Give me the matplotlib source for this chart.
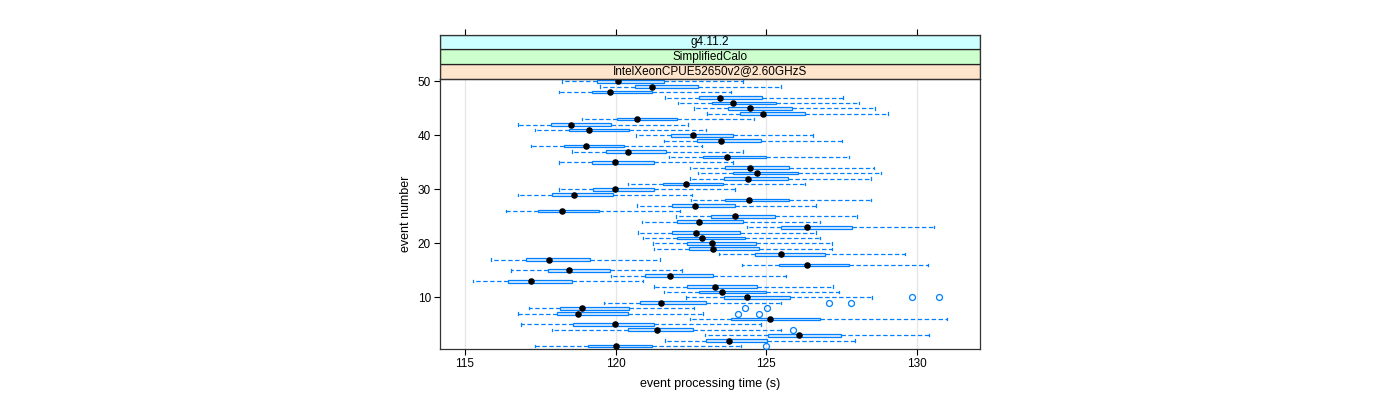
import matplotlib
matplotlib.use("Agg")
import matplotlib.pyplot as plt
from matplotlib.patches import Rectangle

plt.rcParams['font.family'] = ['Liberation Sans', 'DejaVu Sans']
plt.rcParams['lines.scale_dashes'] = False

# event number 1..50
events = list(range(1, 51))
whislo = [117.34, 121.64, 122.95, 117.90, 116.86, 122.48, 116.76, 117.13, 119.63, 122.35,
          121.60, 121.26, 115.29, 119.84, 116.53, 124.20, 115.88, 123.42, 121.26, 121.23,
          120.90, 120.73, 124.34, 120.87, 122.00, 116.38, 120.72, 122.50, 116.78, 118.13,
          120.42, 122.48, 122.74, 122.48, 118.11, 121.78, 118.56, 117.19, 121.59, 120.68,
          117.34, 116.76, 118.88, 123.03, 122.60, 122.08, 121.63, 118.13, 119.50, 118.23]
q1 = [119.09, 123.00, 125.06, 120.40, 118.60, 123.84, 118.07, 118.16, 120.80, 123.61,
      122.77, 122.37, 116.44, 120.99, 117.75, 125.42, 117.04, 124.63, 122.44, 122.37,
      122.05, 121.88, 125.49, 122.02, 123.17, 117.44, 121.88, 123.64, 117.90, 119.26,
      121.58, 123.60, 123.89, 123.63, 119.22, 122.89, 119.69, 118.30, 122.71, 121.85,
      118.44, 117.85, 120.05, 124.13, 123.72, 123.20, 122.77, 119.22, 120.63, 119.40]
med = [120.03, 123.77, 126.08, 121.38, 119.99, 125.11, 118.77, 118.88, 121.52, 124.37,
       123.53, 123.28, 117.19, 121.80, 118.45, 126.34, 117.79, 125.49, 123.24, 123.18,
       122.85, 122.68, 126.34, 122.77, 123.96, 118.23, 122.63, 124.43, 118.62, 119.99,
       122.32, 124.39, 124.70, 124.44, 119.99, 123.71, 120.41, 119.03, 123.50, 122.55,
       119.13, 118.53, 120.71, 124.89, 124.46, 123.90, 123.45, 119.83, 121.22, 120.07]
q3 = [121.22, 125.02, 127.48, 122.55, 121.26, 126.78, 120.40, 120.43, 123.00, 125.79,
      124.99, 124.69, 118.56, 123.22, 119.82, 127.75, 119.16, 126.95, 124.74, 124.67,
      124.30, 124.14, 127.84, 124.21, 125.29, 119.46, 123.95, 125.74, 119.92, 121.26,
      123.57, 125.72, 126.05, 125.76, 121.27, 125.00, 121.68, 120.29, 124.82, 123.88,
      120.45, 119.86, 122.04, 126.29, 125.86, 125.33, 124.84, 121.20, 122.74, 121.62]
whishi = [124.17, 127.93, 130.40, 125.49, 124.83, 130.98, 122.91, 122.60, 125.49, 128.50,
          127.41, 127.21, 120.92, 125.66, 122.19, 130.35, 121.46, 129.58, 127.18, 127.18,
          126.76, 126.63, 130.54, 126.76, 127.99, 122.15, 126.64, 128.47, 122.52, 123.97,
          126.29, 128.46, 128.80, 128.57, 123.90, 127.75, 124.24, 122.85, 127.49, 126.56,
          123.00, 122.40, 124.60, 129.04, 128.61, 128.06, 127.55, 123.84, 125.47, 124.21]
outliers = {1: [124.98], 4: [125.89], 7: [124.06, 124.74], 8: [124.28, 125.03],
            9: [127.07, 127.79], 10: [129.81, 130.71]}

strip_labels = ["IntelXeonCPUE52650v2@2.60GHzS", "SimplifiedCalo", "g4.11.2"]
strip_colors = ["#ffe5cc", "#ccffcc", "#ccffff"]
xticks = [115, 120, 125, 130]
yticks = [10, 20, 30, 40, 50]

W, H = 1400, 400
fig = plt.figure(figsize=(W / 100, H / 100), dpi=100)

px_l, px_r, px_t, px_b = 440, 980, 78.6, 348.7
strip_top = 34.8
ax = fig.add_axes([px_l / W, 1 - px_b / H, (px_r - px_l) / W, (px_b - px_t) / H])

blue = "#0080ff"
stats = []
for i, e in enumerate(events):
    stats.append(dict(med=med[i], q1=q1[i], q3=q3[i], whislo=whislo[i], whishi=whishi[i],
                      fliers=outliers.get(e, []), label=str(e)))

ax.bxp(stats, positions=events, widths=0.5, orientation='horizontal',
       patch_artist=True, showfliers=True, capwidths=0.45,
       boxprops=dict(facecolor="#d9ecff", edgecolor=blue, linewidth=0.9),
       whiskerprops=dict(color=blue, linewidth=0.9, linestyle=(0, (3.2, 1.8))),
       capprops=dict(color=blue, linewidth=0.9),
       medianprops=dict(linestyle='none'),
       flierprops=dict(marker='o', markerfacecolor='none', markeredgecolor=blue,
                       markersize=4.3, markeredgewidth=0.9),
       manage_ticks=False, zorder=3)
ax.plot(med, events, 'o', color='black', markersize=3.7, zorder=5)

ax.set_xlim(114.18, 132.08)
ax.set_ylim(0.5, 50.5)
for xv in xticks:
    ax.axvline(xv, color="#e6e6e6", linewidth=0.9, zorder=0)
ax.set_xticks(xticks)
ax.set_xticklabels([str(v) for v in xticks])
ax.set_yticks(yticks)
ax.set_yticklabels([str(v) for v in yticks])
ax.tick_params(axis='both', direction='out', length=4.5, width=0.8, labelsize=8.5,
               colors='black', pad=2)
ax.tick_params(top=False, right=False)
for s in ax.spines.values():
    s.set_color('#333333')
    s.set_linewidth(0.9)
ax.set_xlabel("event processing time (s)", fontsize=9, labelpad=6)
ax.set_ylabel("event number", fontsize=9, labelpad=4)

# strips
sax = fig.add_axes([px_l / W, 1 - px_t / H, (px_r - px_l) / W, (px_t - strip_top) / H])
sax.set_xlim(ax.get_xlim())
sax.set_ylim(0, 3)
for j, (lab, col) in enumerate(zip(strip_labels, strip_colors)):
    sax.add_patch(Rectangle((114.18, j), 132.08 - 114.18, 1, facecolor=col,
                            edgecolor='#222222', linewidth=0.9))
    sax.text(0.5 * (114.18 + 132.08), j + 0.5, lab, ha='center', va='center',
             fontsize=8.5)
sax.set_xticks(xticks)
sax.tick_params(axis='x', bottom=False, top=True, labelbottom=False, labeltop=False,
                direction='out', length=4.5, width=0.8)
sax.set_yticks([])
for s in sax.spines.values():
    s.set_color('#333333')
    s.set_linewidth(0.9)

fig.savefig("out.png", dpi=100)
